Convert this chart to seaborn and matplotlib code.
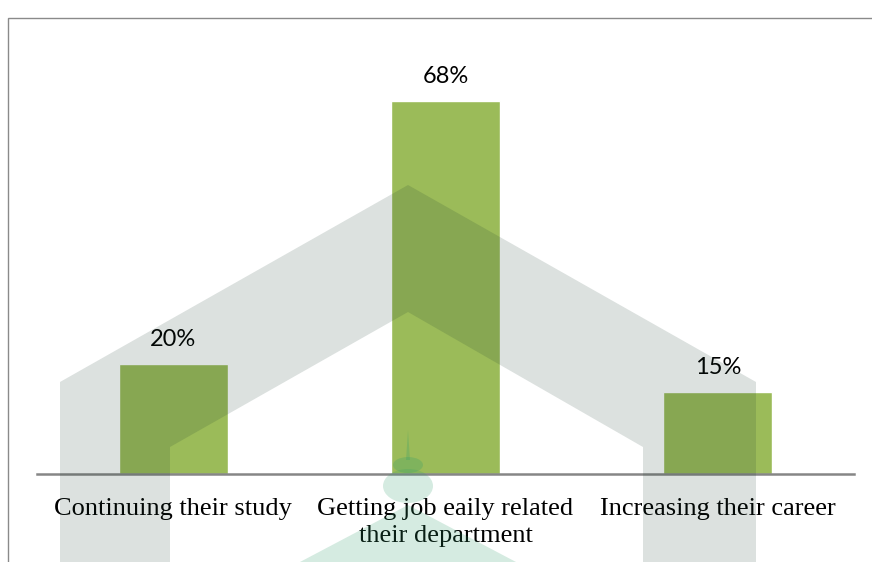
import matplotlib
matplotlib.use("Agg")
import matplotlib.pyplot as plt
import numpy as np
import pandas as pd
import seaborn as sb
from matplotlib.patches import Polygon, Ellipse, Rectangle

categories = ["Continuing their study",
              "Getting job eaily related\ntheir department",
              "Increasing their career"]
values = [20, 68, 15]
labels = ["20%", "68%", "15%"]

W, H = 872, 562

def px(x, y):
    # pixel position -> figure fraction (for the decoration only)
    return (x / W, 1 - y / H)

df = pd.DataFrame({"cat": categories, "val": values})

sb.set_style("white")
fig = plt.figure(figsize=(8.72, 5.62), dpi=100)
ax = fig.add_axes([37 / W, 88 / H, 817 / W, 438 / H])

sb.barplot(data=df, x="cat", y="val", color="#9BBB59", saturation=1,
           width=0.4, ax=ax)
ax.set_ylim(0, 79.8)
ax.set_xlim(-0.5, 2.5)
ax.bar_label(ax.containers[0], labels=labels, padding=10,
             fontsize=17, family="Lato", color="black")

ax.set_xlabel("")
ax.set_ylabel("")
ax.set_yticks([])
ax.set_xticks(range(len(categories)), categories, family="Liberation Serif",
              fontsize=19, linespacing=1.3, color="black")
ax.tick_params(axis="x", length=0, pad=17)
for s in ["left", "right", "top"]:
    ax.spines[s].set_visible(False)
ax.spines["bottom"].set_color("#868686")
ax.spines["bottom"].set_linewidth(1.8)

# chart frame (only top and left edges are visible)
fig.patches.append(Rectangle(px(8, 600), 1.2, (600 - 18) / H, fill=False,
                             edgecolor="#8a8a8a", linewidth=1,
                             transform=fig.transFigure, zorder=0))

# watermark chevron
chev = [px(60, 600), px(60, 382), px(408, 185), px(756, 382), px(756, 600),
        px(643, 600), px(643, 447), px(408, 312), px(170, 447), px(170, 600)]
fig.patches.append(Polygon(chev, closed=True, facecolor="#15372A", alpha=0.15,
                           edgecolor="none", transform=fig.transFigure, zorder=5))

# green watermark ornament
mint = "#2E9E6A"
fig.patches.append(Polygon([px(300, 600), px(300, 562), px(408, 505),
                            px(516, 562), px(516, 600)], closed=True,
                           facecolor=mint, alpha=0.2, edgecolor="none",
                           transform=fig.transFigure, zorder=0))
fig.patches.append(Ellipse(px(408, 486), 50 / W, 34 / H, facecolor=mint,
                           alpha=0.2, edgecolor="none",
                           transform=fig.transFigure, zorder=0))
fig.patches.append(Ellipse(px(408, 465), 30 / W, 16 / H, facecolor=mint,
                           alpha=0.25, edgecolor="none",
                           transform=fig.transFigure, zorder=5))
fig.patches.append(Polygon([px(406, 460), px(408, 430), px(410, 460)],
                           closed=True, facecolor=mint, alpha=0.25,
                           edgecolor="none", transform=fig.transFigure, zorder=5))

plt.savefig("out.png", dpi=100)
